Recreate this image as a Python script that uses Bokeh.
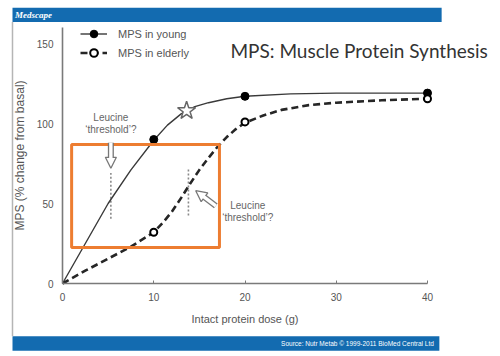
from bokeh.plotting import figure
from bokeh.models import (Range1d, LinearAxis, FixedTicker, Legend, LegendItem, Label,
                          BoxAnnotation, Arrow, NormalHead)
from bokeh.core.properties import value
from bokeh.embed import file_html
from bokeh.resources import INLINE

# ---------------- data ----------------
dose_points = [10, 20, 40]
young_points = [90, 117, 119]
elderly_points = [32, 101, 115.5]

young_curve_x = [0, 2.5, 5, 7.5, 10, 11.5, 13, 14.5, 16, 18, 20, 25, 30, 35, 40]
young_curve_y = [0, 25, 50, 71, 89.5, 99, 106, 110.5, 113, 115.5, 117, 118.5, 119, 119, 119]

elderly_curve_x = [0, 2.5, 5, 7.5, 10, 11, 12, 13, 14, 15, 16, 17, 18, 19, 20, 22, 24, 27, 30, 35, 40]
elderly_curve_y = [0, 8, 15.5, 23, 32, 38, 45, 53.5, 62.5, 71, 78.5, 85.5, 91.5, 96.5, 100.5,
                   105, 108.5, 111.5, 113, 114.5, 115.5]

star_x = [13.6]
star_y = [108]

threshold_x = [5.3, 13.8]
threshold_y0 = [40.5, 42.5]
threshold_y1 = [69, 72]

x_ticks = [0, 10, 20, 30, 40]
y_ticks = [0, 50, 100, 150]

title_text = "MPS: Muscle Protein Synthesis"
x_label = "Intact protein dose (g)"
y_label = "MPS (% change from basal)"
legend_labels = ["MPS in young", "MPS in elderly"]
note_lines = ["Leucine", "\u2018threshold\u2019?"]
logo_text = "Medscape"
source_text = "Source: Nutr Metab \u00a9 1999-2011 BioMed Central Ltd"

# ---------------- figure ----------------
W, H = 500, 356
p = figure(width=W, height=H, output_backend="svg", toolbar_location=None,
           x_range=Range1d(-6.795, 48.0), y_range=Range1d(-45.625, 176.875),
           x_axis_type=None, y_axis_type=None,
           min_border_left=0, min_border_right=0, min_border_top=0, min_border_bottom=0)
p.outline_line_color = None
p.xgrid.visible = False
p.ygrid.visible = False
p.background_fill_color = "white"
p.border_fill_color = "white"

GREY = "#666666"
BLUE = "#136bb0"

# slide decorations
p.quad(left=[-5.48], right=[41.55], bottom=[163.4], top=[172.3], color=BLUE, line_color=None)
p.quad(left=[-5.48], right=[41.3], bottom=[-42.0], top=[-33.0], color=BLUE, line_color=None)
p.segment(x0=[-5.48], y0=[163.4], x1=[-5.48], y1=[-33.0], line_color="#b5b5b5", line_width=1.5)
p.text(x=[-5.2], y=[167.9], text=[logo_text], text_color="white", text_font=value("Liberation Serif"),
       text_font_size="9px", text_font_style="bold italic", text_baseline="middle")
p.text(x=[40.7], y=[-37.6], text=[source_text], text_color="white", text_font=value("Liberation Sans"),
       text_font_size="6.5px", text_align="right", text_baseline="middle")

# axes
xaxis = LinearAxis(fixed_location=0, bounds=(0, 40), ticker=FixedTicker(ticks=x_ticks),
                   axis_label=x_label)
yaxis = LinearAxis(fixed_location=0, bounds=(0, 160), ticker=FixedTicker(ticks=y_ticks),
                   axis_label=y_label)
for ax in (xaxis, yaxis):
    ax.axis_line_color = "#7a7a7a"
    ax.axis_line_width = 1.6
    ax.major_tick_line_color = "#7a7a7a"
    ax.major_tick_out = 0
    ax.minor_tick_in = 0
    ax.minor_tick_out = 0
    ax.major_label_text_font = "Liberation Sans"
    ax.major_label_text_font_size = "10px"
    ax.major_label_text_color = "#555555"
    ax.axis_label_text_font = "Liberation Sans"
    ax.axis_label_text_font_style = "normal"
    ax.axis_label_text_color = "#555555"
xaxis.major_tick_in = 3
xaxis.major_label_standoff = 9
xaxis.axis_label_text_font_size = "11px"
xaxis.axis_label_standoff = 9
yaxis.major_tick_in = 0
yaxis.major_label_standoff = 9
yaxis.axis_label_text_font_size = "12px"
yaxis.axis_label_standoff = 7
p.add_layout(xaxis, "below")
p.add_layout(yaxis, "left")

# orange box
p.add_layout(BoxAnnotation(left=1.0, right=17.2, bottom=22.5, top=86.9, fill_alpha=0,
                           line_color="#ed7d31", line_alpha=1.0, line_width=3))

# threshold dashed verticals
p.segment(x0=threshold_x, y0=threshold_y0, x1=threshold_x, y1=threshold_y1,
          line_color="#8a8a8a", line_width=1.6, line_dash="2 2")

# curves
young_line = p.line(young_curve_x, young_curve_y, line_color="#3a3a3a", line_width=1.4)
elderly_line = p.line(elderly_curve_x, elderly_curve_y, line_color="#262626", line_width=2.6,
                      line_dash="7 4")
young_pts = p.scatter(dose_points, young_points, size=8, fill_color="black", line_color="black")
elderly_pts = p.scatter(dose_points, elderly_points, size=7, fill_color="white", line_color="black",
                        line_width=2)
p.scatter(star_x, star_y, marker="star", size=19, fill_color="white", line_color="#666666",
          line_width=1.5)

# hollow arrows
def hollow_arrow(x0, y0, x1, y1, xs, ys):
    p.add_layout(Arrow(x_start=x0, y_start=y0, x_end=x1, y_end=y1, line_color="#777777",
                       line_width=6,
                       end=NormalHead(size=11, fill_color="white", line_color="#777777",
                                      line_width=1.3)))
    p.add_layout(Arrow(x_start=x0, y_start=y0, x_end=xs, y_end=ys, line_color="white",
                       line_width=3.4, end=None))

hollow_arrow(5.3, 88, 5.3, 72, 5.3, 76)
hollow_arrow(16.8, 48.5, 14.6, 58, 15.1, 55.9)

# notes
p.text(x=[5.3, 5.3], y=[103.5, 96], text=note_lines, text_color=GREY,
       text_font=value("Liberation Sans"), text_font_size="10px", text_align="center",
       text_baseline="middle")
p.text(x=[20.3, 20.3], y=[48.7, 41.2], text=note_lines, text_color=GREY,
       text_font=value("Liberation Sans"), text_font_size="10px", text_align="center",
       text_baseline="middle")

# big title
p.add_layout(Label(x=18.4, y=145.5, text=title_text, text_color="#333333", text_font="Lato",
                   text_font_size="19px", text_baseline="alphabetic"))

# legend
legend = Legend(items=[LegendItem(label=legend_labels[0], renderers=[young_line, young_pts]),
                       LegendItem(label=legend_labels[1], renderers=[elderly_line, elderly_pts])],
                location=(80, 294), orientation="vertical")
legend.background_fill_alpha = 0
legend.border_line_alpha = 0
legend.padding = 0
legend.margin = 0
legend.spacing = 0
legend.glyph_width = 27
legend.glyph_height = 19
legend.label_height = 19
legend.label_standoff = 11
legend.label_text_font = "Liberation Sans"
legend.label_text_font_size = "11px"
legend.label_text_color = "#555555"
p.add_layout(legend, "center")

open("out.html", "w").write(file_html(p, INLINE))
